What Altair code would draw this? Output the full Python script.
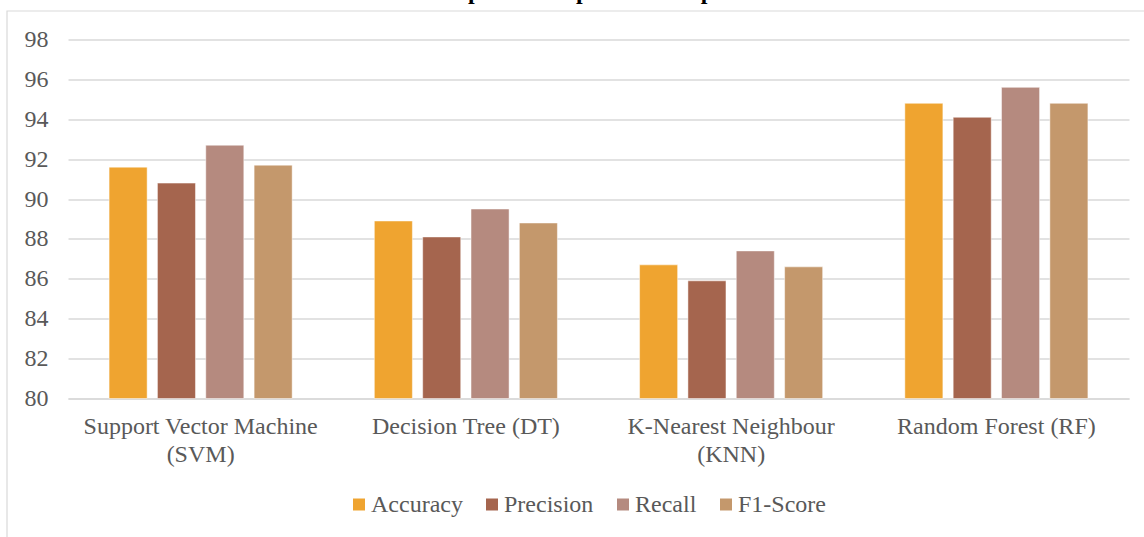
import altair as alt
import pandas as pd

models = ["Support Vector Machine|(SVM)", "Decision Tree (DT)",
          "K-Nearest Neighbour|(KNN)", "Random Forest (RF)"]
metrics = ["Accuracy", "Precision", "Recall", "F1-Score"]
accuracy = [91.6, 88.9, 86.7, 94.8]
precision = [90.8, 88.1, 85.9, 94.1]
recall = [92.7, 89.5, 87.4, 95.6]
f1_score = [91.7, 88.8, 86.6, 94.8]
colors = ["#EFA430", "#A5654E", "#B58A7F", "#C4986C"]
y_ticks = [80, 82, 84, 86, 88, 90, 92, 94, 96, 98]

rows = []
for series_name, vals in zip(metrics, [accuracy, precision, recall, f1_score]):
    for m, v in zip(models, vals):
        rows.append({"model": m, "metric": series_name, "value": v})
df = pd.DataFrame(rows)
one = pd.DataFrame({"k": [0]})

FONT = "Liberation Serif"
W, H = 1061, 359

border = alt.Chart(one).mark_rect(fill=None, stroke="#D9D9D9", strokeWidth=1.2).encode(
    x=alt.value(-61), x2=alt.value(W + 40), y=alt.value(-28.5), y2=alt.value(H + 200)
)

title = alt.Chart(one).mark_text(
    text="Graph 1: Comparison Graph", font=FONT, fontSize=24, fontWeight="bold",
    align="center", baseline="alphabetic", color="#000000"
).encode(x=alt.value(509), y=alt.value(-40.5))

bars = alt.Chart(df).mark_bar(stroke="white", strokeWidth=0.8, strokeOpacity=0.6).encode(
    x=alt.X("model:N", sort=models,
            scale=alt.Scale(paddingInner=0, paddingOuter=0),
            axis=alt.Axis(title=None, labelAngle=0, labelExpr="split(datum.label, '|')",
                          ticks=False, tickSize=0, labelPadding=16, labelLineHeight=28,
                          labelLimit=0,
                          domain=True, domainColor="#D9D9D9", domainWidth=1.5,
                          labelBaseline="top")),
    xOffset=alt.XOffset("metric:N", sort=metrics,
                        scale=alt.Scale(paddingInner=0.213, paddingOuter=0.85)),
    y=alt.Y("value:Q", scale=alt.Scale(domain=[80, 98], zero=False, nice=False),
            axis=alt.Axis(title=None, values=y_ticks, grid=True, gridColor="#D9D9D9",
                          gridWidth=1.3, domain=False, ticks=False, tickSize=0,
                          labelPadding=20)),
    y2=alt.datum(80),
    color=alt.Color("metric:N", sort=metrics,
                    scale=alt.Scale(domain=metrics, range=colors),
                    legend=alt.Legend(title=None, orient="none", legendX=279, legendY=453,
                                      direction="horizontal", columns=4,
                                      symbolType="square", symbolSize=144,
                                      symbolStrokeWidth=0,
                                      columnPadding=17, labelOffset=0, padding=0)),
)

chart = alt.layer(border, bars, title).properties(
    width=W, height=H,
    autosize=alt.AutoSizeParams(type="none"),
    padding={"left": 68, "top": 39.5, "right": 15, "bottom": 138.5},
    background="white",
).configure(font=FONT).configure_view(stroke=None).configure_axis(
    labelFont=FONT, labelFontSize=24, labelColor="#595959"
).configure_legend(
    labelFont=FONT, labelFontSize=24, labelColor="#595959", labelLimit=0
)

chart.save("out.html", embed_options={"renderer": "svg", "actions": False})
